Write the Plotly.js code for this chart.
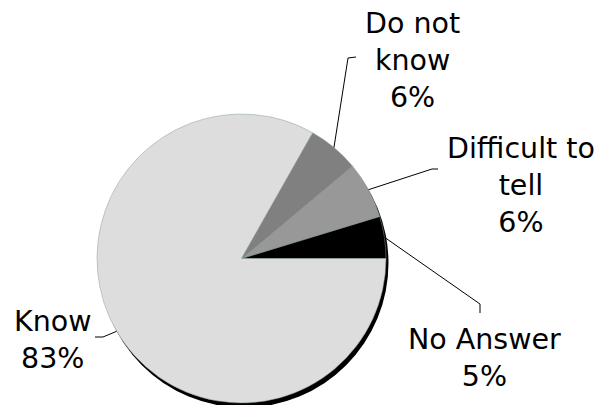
<!DOCTYPE html>
<html>
<head>
<meta charset="utf-8">
<script src="https://cdn.plot.ly/plotly-3.0.1.min.js"></script>
<style>html,body{margin:0;padding:0;background:#fff;}#chart{width:605px;height:405px;}</style>
</head>
<body>
<div id="chart"></div>
<script>
// Data
var labels = ["No Answer", "Difficult to tell", "Do not know", "Know"];
var labelText = ["No Answer", "Difficult to<br>tell", "Do not<br>know", "Know"];
var values = [4.7, 6.4, 5.7, 83.2];
var colors = ["#000000", "#989898", "#808080", "#dddddd"];

// Layout geometry (pixels)
var W = 605, H = 405;
var CX = 241.5, CY = 258.5, R = 144.5;
var SHX = 2.5, SHY = 4.5; // shadow offset
var labelPos = [[484, 358], [521, 185], [412, 61], [53, 340]];
var elbows = [
  [[480, 304], [480, 313]],
  [[432, 169], [438, 169]],
  [[348, 58], [356, 57]],
  [[103, 337], [95, 337]]
];

function px(x) { return x / W; }
function py(y) { return 1 - y / H; }

var total = values.reduce(function (a, b) { return a + b; }, 0);
var pct = values.map(function (v) { return Math.round(v / total * 100) + "%"; });
var firstAngle = values[0] / total * 360;

var pieTrace = {
  type: "pie",
  labels: labels,
  values: values,
  sort: false,
  direction: "counterclockwise",
  rotation: 90 - firstAngle,
  textinfo: "none",
  hoverinfo: "none",
  showlegend: false,
  marker: { colors: colors, line: { color: "#8aa0a0", width: 0.5 } },
  domain: { x: [px(CX - R), px(CX + R)], y: [py(CY + R), py(CY - R)] }
};

// Shadow disc and leader lines
var shapes = [{
  type: "circle", layer: "below", xref: "paper", yref: "paper",
  x0: px(CX - R + SHX), x1: px(CX + R + SHX),
  y0: py(CY + R + SHY), y1: py(CY - R + SHY),
  fillcolor: "#000000", line: { width: 0 }
}];
var annotations = [];
var cum = 0;
for (var i = 0; i < values.length; i++) {
  var mid = (cum + values[i] / 2) / total * 2 * Math.PI;
  cum += values[i];
  var ax = CX + R * Math.cos(mid);
  var ay = CY - R * Math.sin(mid);
  var e = elbows[i];
  var path = "M" + px(ax) + "," + py(ay) + " L" + px(e[0][0]) + "," + py(e[0][1]) + " L" + px(e[1][0]) + "," + py(e[1][1]);
  shapes.push({ type: "path", xref: "paper", yref: "paper", path: path, line: { color: "#000000", width: 1 } });
  annotations.push({
    xref: "paper", yref: "paper",
    x: px(labelPos[i][0]), y: py(labelPos[i][1]),
    xanchor: "center", yanchor: "middle",
    text: labelText[i] + "<br>" + pct[i],
    showarrow: false,
    align: "center",
    font: { family: "DejaVu Sans", size: 28.5, color: "#000000" }
  });
}

var layout = {
  width: W, height: H,
  margin: { l: 0, r: 0, t: 0, b: 0 },
  paper_bgcolor: "#ffffff",
  plot_bgcolor: "#ffffff",
  showlegend: false,
  shapes: shapes,
  annotations: annotations
};

Plotly.newPlot("chart", [pieTrace], layout, { staticPlot: true, displayModeBar: false });
</script>
</body>
</html>
